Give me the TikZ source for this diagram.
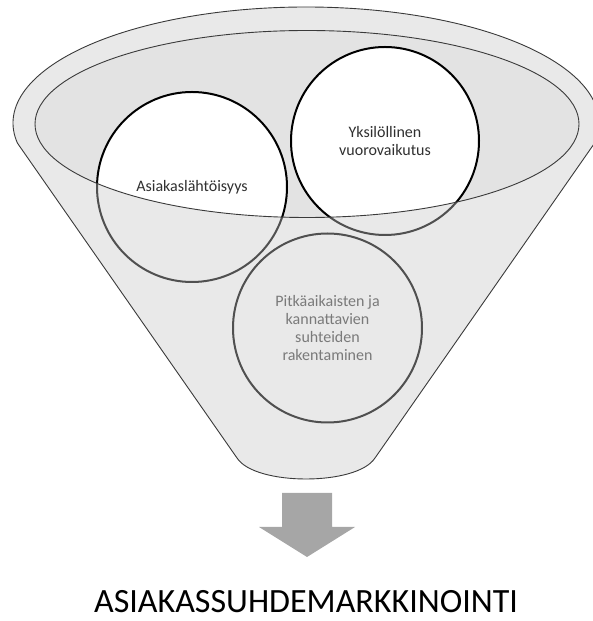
\documentclass[tikz,border=0pt]{standalone}
\usepackage{fontspec}
\setmainfont{Carlito}

\definecolor{innerfill}{HTML}{E3E3E3}
\definecolor{overlayfill}{RGB}{200,200,200}
\definecolor{funnelline}{HTML}{3A3A3A}
\definecolor{arrowgray}{HTML}{A6A6A6}
\definecolor{textdark}{HTML}{303030}
\definecolor{textunder}{RGB}{70,70,70}

\begin{document}
\begin{tikzpicture}[x=1pt, y=1pt, semithick]
  \tikzstyle{bubble} = [circle, draw=black, line width=2pt, fill=white,
    text=textdark, align=center, inner sep=0pt, font=\fontsize{16}{18.3}\selectfont]
  \tikzstyle{funnel} = [draw=funnelline, line width=0.9pt, fill=overlayfill,
    fill opacity=0.4, even odd rule]
  \tikzstyle{title} = [font=\fontsize{34}{40}\selectfont, text=black,
    anchor=base, inner sep=0pt]

  \useasboundingbox (0,0) rectangle (593,621);

  % Back of the funnel
  \fill[innerfill] (307,497) ellipse [x radius=272, y radius=93.5];

  % Place nodes
  \node [bubble, minimum size=190pt] (client) at (192,434) {Asiakaslähtöisyys};
  \node [bubble, minimum size=188pt] (interaction) at (385,480) {Yksilöllinen\\vuorovaikutus};
  \node [bubble, minimum size=189pt, text=textunder] (relations) at (327.5,293)
    {Pitkäaikaisten ja\\kannattavien\\suhteiden\\rakentaminen};

  % Front of the funnel
  \path [funnel] ([shift={(306,498)}]-10:293 and 116)
      arc [start angle=-10, end angle=190, x radius=293, y radius=116]
      -- (237,163) .. controls (255,135) and (357,135) .. (375,163) -- cycle
    (307,497) ellipse [x radius=272, y radius=93.5];

  % Arrow and result
  \fill [arrowgray] (282,128) -- (332,128) -- (332,94) -- (355,94) -- (307,64)
    -- (259,94) -- (282,94) -- cycle;
  \node [title] (result) at (306,9) {ASIAKASSUHDEMARKKINOINTI};

\end{tikzpicture}
\end{document}
